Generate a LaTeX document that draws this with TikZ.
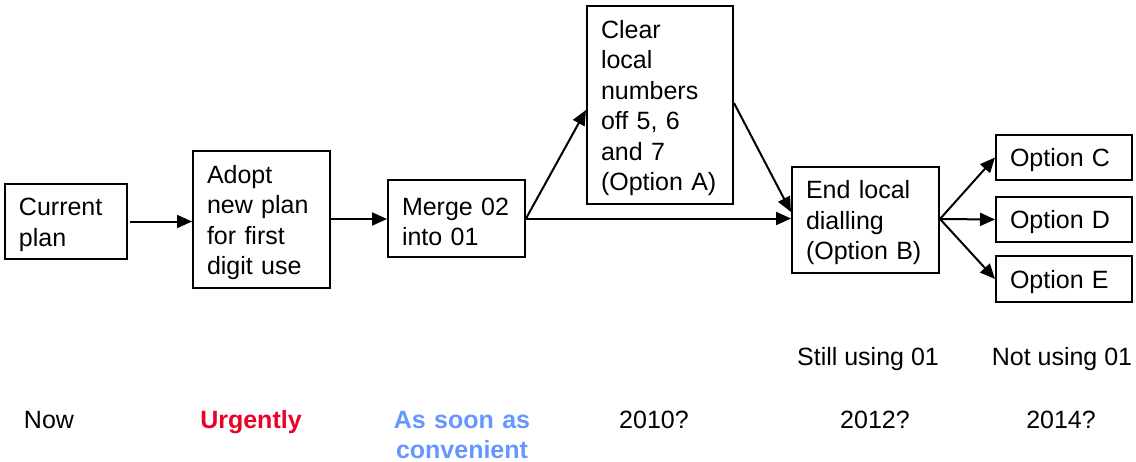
\documentclass[tikz,border=0pt]{standalone}
\usepackage{fontspec}
\setmainfont{Liberation Sans}
\usetikzlibrary{arrows.meta}
\definecolor{urgred}{RGB}{235,0,40}
\definecolor{convblue}{RGB}{102,150,255}
\begin{document}
\begin{tikzpicture}[x=1pt,y=-1pt,
  txt/.style={font=\fontsize{25}{30.5}\selectfont},
  box/.style={txt,draw,line width=2pt,align=left,inner xsep=14pt,inner ysep=0pt,
    execute at begin node={\rule{0pt}{24pt}}},
  arr/.style={line width=2pt,-{Triangle[length=15pt,width=13pt]}},
  lbl/.style={txt,anchor=base,inner sep=0pt}]
\useasboundingbox (0,0) rectangle (1136,461);
\node[box,text width=94pt,minimum height=75pt] (cur) at (66,221.5) {Current\\plan};
\node[box,text width=109pt,minimum height=137pt] (adopt) at (261.5,219.5) {Adopt\\new plan\\for first\\digit use};
\node[box,text width=109pt,minimum height=77pt] (merge) at (456.5,218.5) {Merge 02\\into 01};
\node[box,text width=118pt,minimum height=198pt] (clear) at (660,105) {Clear\\local\\numbers\\off 5, 6\\and 7\\(Option A)};
\node[box,text width=119pt,minimum height=106pt] (endb) at (865.5,220) {End local\\dialling\\(Option B)};
\node[box,text width=108pt,minimum height=45pt] (optc) at (1064,157.5) {Option C};
\node[box,text width=108pt,minimum height=45pt] (optd) at (1064,219.5) {Option D};
\node[box,text width=108pt,minimum height=46pt] (opte) at (1064,279) {Option E};
\coordinate (curout) at ([xshift=2pt]cur.east);
\draw[arr] (curout) -- (curout -| adopt.west);
\draw[arr] (adopt.east |- 0,219) -- (merge.west |- 0,219);
\draw[arr] (merge.east) -- (clear.west |- 0,110);
\draw[arr] (merge.east) -- (endb.west |- merge.east);
\draw[arr] (clear.east |- 0,103) -- (endb.west |- 0,212);
\draw[arr] (endb.east |- 0,219) -- (optc.west);
\draw[arr] (endb.east |- 0,219) -- (optd.west);
\draw[arr] (endb.east |- 0,219) -- (opte.west);
\node[lbl] (still) at (868,365) {Still using 01};
\node[lbl] (notu) at (1062,365) {Not using 01};
\node[lbl] (now) at (49,428) {Now};
\node[lbl,text=urgred,font=\fontsize{25}{30.5}\selectfont\bfseries] (urg) at (251,428) {Urgently};
\node[lbl,text=convblue,font=\fontsize{25}{30}\selectfont\bfseries,text width=160pt,align=center] (asap) at (462,428) {As soon as\\convenient};
\node[lbl] (y2010) at (654,428) {2010?};
\node[lbl] (y2012) at (875,428) {2012?};
\node[lbl] (y2014) at (1061,428) {2014?};
\end{tikzpicture}
\end{document}
